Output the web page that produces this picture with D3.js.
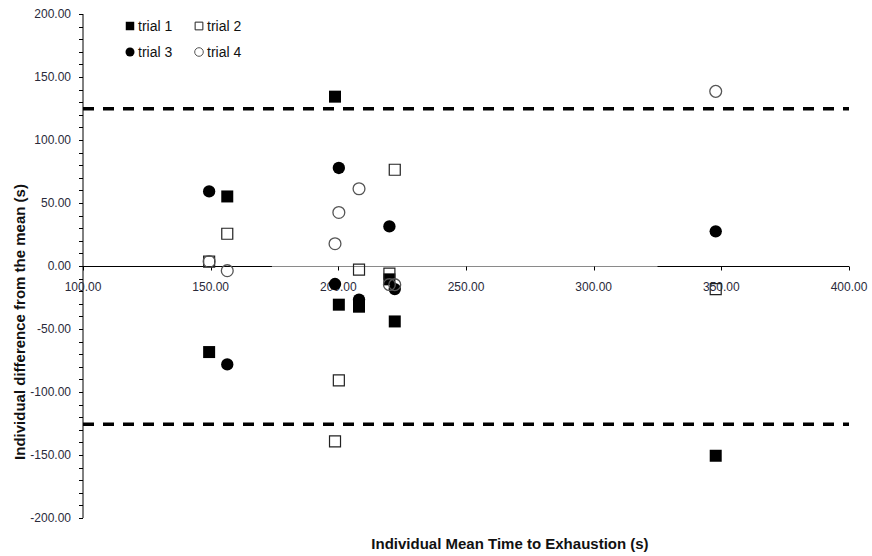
<!DOCTYPE html>
<html>
<head>
<meta charset="utf-8">
<script src="https://cdn.jsdelivr.net/npm/d3@7"></script>
<style>
  body { margin: 0; background: #fff; }
  svg { display: block; font-family: "Liberation Sans", Arial, sans-serif; }
  .tick-label { font-size: 12px; fill: #2a2a3a; }
  .axis-title { font-size: 15px; font-weight: bold; fill: #111; }
  .legend-text { font-size: 14px; fill: #111; }
</style>
</head>
<body>
<svg id="chart" width="872" height="556"></svg>
<script>
// Individual means (x) shared by all trials, one per subject
const subjectMeans = [149.4, 156.5, 198.7, 200.2, 208.1, 220.0, 222.1, 347.8];
const trial1 = [-68.3, 55.2, 134.4, -30.7, -32.3, -10.6, -44.0, -150.6];
const trial2 = [3.4, 25.6, -139.2, -90.8, -2.9, -6.1, 76.4, -18.3];
const trial3 = [59.2, -78.1, -14.3, 77.8, -26.7, 31.4, -18.3, 27.5];
const trial4 = [3.6, -3.7, 17.7, 42.5, 61.3, -14.7, -14.8, 138.6];
const trialNames = ["trial 1", "trial 2", "trial 3", "trial 4"];
const limitsOfAgreement = [124.8, -125.6];
const meanLineSpan = [174, 325];
const xTicks = [100, 150, 200, 250, 300, 350, 400];
const yTicks = [-200, -150, -100, -50, 0, 50, 100, 150, 200];

const MARGIN = { left: 83, top: 14, right: 23, bottom: 38 };
const WIDTH = 872, HEIGHT = 556;

const svg = d3.select("#chart");

const x = d3.scaleLinear().domain([100, 400]).range([MARGIN.left, WIDTH - MARGIN.right]);
const y = d3.scaleLinear().domain([-200, 200]).range([HEIGHT - MARGIN.bottom, MARGIN.top]);

// marker styles per trial (filled square, open square, filled circle, open circle)
const styles = [
  { type: d3.symbolSquare, size: 144, fill: "#000", stroke: "none", sw: 0 },
  { type: d3.symbolSquare, size: 121, fill: "none", stroke: "#222", sw: 1.2 },
  { type: d3.symbolCircle, size: 120, fill: "#000", stroke: "none", sw: 0 },
  { type: d3.symbolCircle, size: 110, fill: "none", stroke: "#555", sw: 1.3 },
];
const legendStyles = [
  { type: d3.symbolSquare, size: 72 },
  { type: d3.symbolSquare, size: 60 },
  { type: d3.symbolCircle, size: 64 },
  { type: d3.symbolCircle, size: 58 },
];

// Y axis: left ticks, minor every 10
const yAxis = svg.append("g").attr("transform", `translate(${x(100)},0)`);
yAxis.append("line")
  .attr("y1", y(-200)).attr("y2", y(200))
  .attr("stroke", "#000").attr("stroke-width", 1);
yAxis.selectAll(".ytick")
  .data(d3.range(-200, 201, 10))
  .join("line")
  .attr("x1", -4).attr("x2", 0)
  .attr("y1", (d) => Math.round(y(d)) + 0.5).attr("y2", (d) => Math.round(y(d)) + 0.5)
  .attr("stroke", "#000");
yAxis.selectAll(".ylabel")
  .data(yTicks)
  .join("text")
  .attr("class", "tick-label")
  .attr("x", -12).attr("y", (d) => y(d))
  .attr("dy", "0.35em")
  .attr("text-anchor", "end")
  .text((d) => d.toFixed(2));

// X axis crosses at y = 0
const xAxis = svg.append("g").attr("transform", `translate(0,${Math.round(y(0)) + 0.5})`);
xAxis.append("line")
  .attr("x1", x(100)).attr("x2", x(400))
  .attr("stroke", "#000").attr("stroke-width", 1);
xAxis.append("line")
  .attr("x1", x(meanLineSpan[0])).attr("x2", x(meanLineSpan[1]))
  .attr("stroke", "#8a8a8a").attr("stroke-width", 1);
xAxis.selectAll(".xtick")
  .data(xTicks)
  .join("line")
  .attr("x1", (d) => Math.round(x(d)) + 0.5).attr("x2", (d) => Math.round(x(d)) + 0.5)
  .attr("y1", 0).attr("y2", 4)
  .attr("stroke", "#000");
xAxis.selectAll(".xlabel")
  .data(xTicks)
  .join("text")
  .attr("class", "tick-label")
  .attr("x", (d) => x(d)).attr("y", 20)
  .attr("dy", "0.35em")
  .attr("text-anchor", "middle")
  .text((d) => d.toFixed(2));

// Limits of agreement
svg.append("g")
  .selectAll("line")
  .data(limitsOfAgreement)
  .join("line")
  .attr("x1", x(100)).attr("x2", x(400))
  .attr("y1", (d) => y(d)).attr("y2", (d) => y(d))
  .attr("stroke", "#000")
  .attr("stroke-width", 3.5)
  .attr("stroke-dasharray", "11,9");

// Points
const trials = [trial1, trial2, trial3, trial4];
trials.forEach((values, i) => {
  const s = styles[i];
  svg.append("g")
    .selectAll("path")
    .data(values.map((v, j) => ({ x: subjectMeans[j], y: v })))
    .join("path")
    .attr("d", d3.symbol().type(s.type).size(s.size))
    .attr("transform", (d) => `translate(${x(d.x)},${y(d.y)})`)
    .attr("fill", s.fill)
    .attr("stroke", s.stroke)
    .attr("stroke-width", s.sw);
});

// Legend
const legend = svg.append("g").attr("transform", "translate(130,26)");
trialNames.forEach((name, i) => {
  const s = styles[i];
  const ls = legendStyles[i];
  const g = legend.append("g")
    .attr("transform", `translate(${(i % 2) * 69},${Math.floor(i / 2) * 26})`);
  g.append("path")
    .attr("d", d3.symbol().type(ls.type).size(ls.size))
    .attr("fill", s.fill)
    .attr("stroke", s.stroke)
    .attr("stroke-width", s.sw ? 1 : 0);
  g.append("text")
    .attr("class", "legend-text")
    .attr("x", 8).attr("dy", "0.35em")
    .text(name);
});

// Axis titles
svg.append("text")
  .attr("class", "axis-title")
  .attr("x", 510).attr("y", 549)
  .attr("text-anchor", "middle")
  .text("Individual Mean Time to Exhaustion (s)");

svg.append("text")
  .attr("class", "axis-title")
  .attr("transform", "translate(25,322) rotate(-90)")
  .attr("text-anchor", "middle")
  .text("Individual difference from the mean (s)");
</script>
</body>
</html>
